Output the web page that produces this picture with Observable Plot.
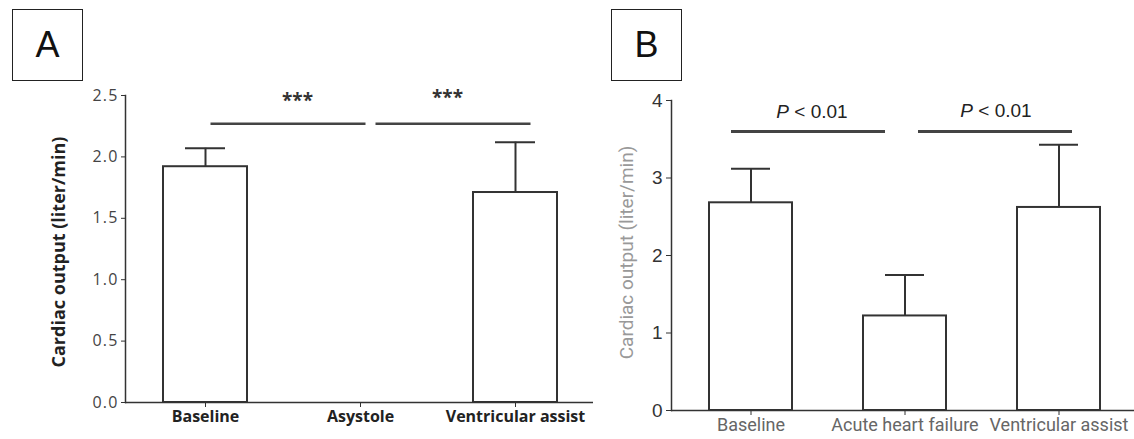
<!DOCTYPE html>
<html><head><meta charset="utf-8">
<script src="https://cdn.jsdelivr.net/npm/d3@7"></script>
<script src="https://cdn.jsdelivr.net/npm/@observablehq/plot@0.6"></script>
<style>
body{margin:0;background:#fff;width:1134px;height:439px;position:relative;overflow:hidden}
.panel{position:absolute;top:0}
.tag{position:absolute;top:9px;width:69px;height:70px;border:1.5px solid #222;font-family:"Liberation Sans",Arial,sans-serif;font-size:36px;line-height:70px;text-align:center;color:#111}
#pA g[aria-label="y-axis tick label"]{font-size:16px;letter-spacing:1.2px;fill:#444;font-family:"Open Sans",sans-serif}
#pA g[aria-label="x-axis tick label"]{font-size:16px;font-weight:bold;fill:#222;font-family:"Open Sans",sans-serif}
#pB g[aria-label="y-axis tick label"]{font-size:19px;fill:#333;font-family:"Liberation Sans",Arial,sans-serif}
#pB g[aria-label="x-axis tick label"]{font-size:18px;fill:#666;font-family:"Liberation Sans Narrow","Roboto",sans-serif}
</style></head><body>
<div class="tag" style="left:12px">A</div>
<div class="tag" style="left:611px">B</div>
<div id="pA" class="panel" style="left:0"></div>
<div id="pB" class="panel" style="left:600px"></div>
<script>
// ---- Panel A data ----
const categoriesA = ["Baseline", "Asystole", "Ventricular assist"];
const meanA = [1.92, 0, 1.71];
const upperA = [2.07, null, 2.12];
const ticksA = [0, 0.5, 1.0, 1.5, 2.0, 2.5];
const labelA = "Cardiac output (liter/min)";
const sigA = [
  {from: "Baseline", to: "Asystole", level: 2.27, textLevel: 2.5, label: "***"},
  {from: "Asystole", to: "Ventricular assist", level: 2.27, textLevel: 2.52, label: "***"}
];

// ---- Panel B data ----
const categoriesB = ["Baseline", "Acute heart failure", "Ventricular assist"];
const meanB = [2.68, 1.22, 2.62];
const upperB = [3.12, 1.75, 3.43];
const ticksB = [0, 1, 2, 3, 4];
const labelB = "Cardiac output (liter/min)";
const sigB = [
  {from: "Baseline", to: "Acute heart failure", level: 3.6, textLevel: 3.85, label: "P < 0.01"},
  {from: "Acute heart failure", to: "Ventricular assist", level: 3.6, textLevel: 3.87, label: "P < 0.01"}
];

const dataA = categoriesA.map((c, i) => ({cat: c, mean: meanA[i], upper: upperA[i]}));
const dataB = categoriesB.map((c, i) => ({cat: c, mean: meanB[i], upper: upperB[i]}));
const ink = "#333";

function errMarks(data) {
  const d = data.filter(r => r.upper != null);
  return [
    Plot.ruleX(d, {x: "cat", y1: "mean", y2: "upper", stroke: ink, strokeWidth: 2}),
    Plot.tickY(d, {x: "cat", y: "upper", insetLeft: 22, insetRight: 22, stroke: ink, strokeWidth: 2})
  ];
}

const plotA = Plot.plot({
  width: 600, height: 439,
  marginLeft: 125, marginRight: 7, marginTop: 95, marginBottom: 37,
  style: {background: "transparent", color: ink, fontFamily: "Open Sans, sans-serif"},
  x: {domain: categoriesA, range: [125, 595], paddingInner: 0.458, paddingOuter: 0.245, label: null, tickSize: 5, tickPadding: 3},
  y: {domain: [0, 2.5], ticks: ticksA, tickFormat: d3.format(".1f"), tickSize: 4, tickPadding: 3, label: null},
  marks: [
    Plot.barY(dataA, {x: "cat", y: "mean", fill: "white", stroke: ink, strokeWidth: 2}),
    ...errMarks(dataA),
    Plot.ruleY([0], {stroke: ink, strokeWidth: 1.5}),
    Plot.frame({anchor: "left", stroke: ink, strokeWidth: 1.5}),
    Plot.link([sigA[0]], {x1: "from", x2: "to", y1: "level", y2: "level", stroke: "#444", strokeWidth: 2.5, dx: 5}),
    Plot.link([sigA[1]], {x1: "from", x2: "to", y1: "level", y2: "level", stroke: "#444", strokeWidth: 2.5, dx: 15}),
    Plot.text([sigA[0]], {x: "from", y: "textLevel", text: "label", dx: 92, dy: 5, fontSize: 19, fontWeight: "bold", fill: "#333"}),
    Plot.text([sigA[1]], {x: "from", y: "textLevel", text: "label", dx: 87, dy: 5, fontSize: 19, fontWeight: "bold", fill: "#333"}),
    Plot.text([labelA], {text: d => d, frameAnchor: "left", textAnchor: "middle", rotate: -90, dx: -66, dy: 3, fontSize: 18, fontWeight: "bold", fill: "#222"})
  ]
});
document.getElementById("pA").appendChild(plotA);

const plotB = Plot.plot({
  width: 534, height: 439,
  marginLeft: 71, marginRight: 0, marginTop: 100, marginBottom: 29,
  style: {background: "transparent", color: ink, fontFamily: "Liberation Sans, Arial, sans-serif"},
  x: {domain: categoriesB, range: [71, 539], paddingInner: 0.458, paddingOuter: 0.239, label: null, tickSize: 5, tickPadding: 3},
  y: {domain: [0, 4], ticks: ticksB, tickFormat: d3.format("d"), tickSize: 5, tickPadding: 4, label: null},
  marks: [
    Plot.barY(dataB, {x: "cat", y: "mean", fill: "white", stroke: ink, strokeWidth: 2}),
    ...errMarks(dataB),
    Plot.ruleY([0], {stroke: ink, strokeWidth: 1.5}),
    Plot.frame({anchor: "left", stroke: ink, strokeWidth: 1.5}),
    Plot.link([sigB[0]], {x1: "from", x2: "to", y1: "level", y2: "level", stroke: "#444", strokeWidth: 3, dx: -20}),
    Plot.link([sigB[1]], {x1: "from", x2: "to", y1: "level", y2: "level", stroke: "#444", strokeWidth: 3, dx: 13}),
    Plot.text([sigB[0]], {x: "from", y: "textLevel", text: d => d.label, dx: 61, fontSize: 19, fill: "#222"}),
    Plot.text([sigB[1]], {x: "from", y: "textLevel", text: d => d.label, dx: 91, fontSize: 19, fill: "#222"}),
    Plot.text([labelB], {text: d => d, frameAnchor: "left", textAnchor: "middle", rotate: -90, dx: -45, dy: -3, fontSize: 19, fill: "#999", fontFamily: "Liberation Sans Narrow, Roboto, sans-serif"})
  ]
});
document.getElementById("pB").appendChild(plotB);

// italicise the "P" of the significance labels
d3.select(plotB).selectAll("text").filter(function () { return this.textContent === "P < 0.01"; })
  .each(function () {
    const t = d3.select(this);
    t.text(null);
    t.append("tspan").attr("font-style", "italic").text("P");
    t.append("tspan").text(" < 0.01");
  });
</script>
</body></html>
